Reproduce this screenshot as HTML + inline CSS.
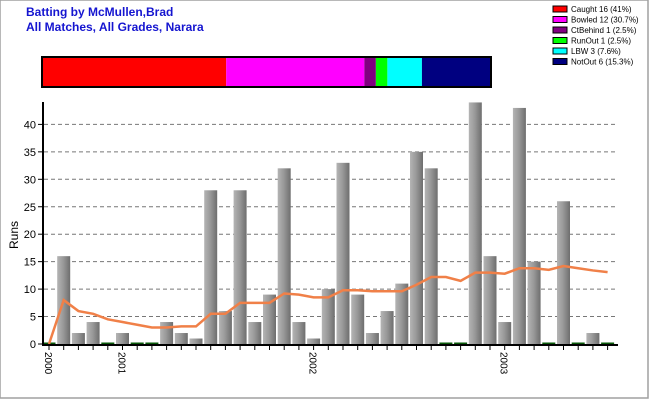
<!DOCTYPE html>
<html><head><meta charset="utf-8"><style>
body{margin:0;background:#fff;}
svg{display:block;font-family:"Liberation Sans",Arial,sans-serif;}
</style></head><body>
<svg id="c" width="650" height="400" viewBox="0 0 650 400">
<defs>
<linearGradient id="bg" x1="0" x2="1" y1="0" y2="0">
<stop offset="0" stop-color="#b4b4b4"/><stop offset="0.45" stop-color="#9a9a9a"/><stop offset="1" stop-color="#6e6e6e"/>
</linearGradient>
</defs>
<rect x="0" y="0" width="648" height="398" fill="#fff" stroke="#a0a0a0" stroke-width="1.5"/>
<text x="26" y="16" font-size="12" font-weight="bold" fill="#1515d0">Batting by McMullen,Brad</text>
<text x="26" y="31" font-size="12" font-weight="bold" fill="#1515d0">All Matches, All Grades, Narara</text>
<g id="dism"></g>
<g id="legend"></g>
<g id="grid"></g>
<g id="bars"></g>
<g id="line"></g>
<g id="axes"></g>
<text transform="translate(18,235) rotate(-90)" font-size="12" text-anchor="middle">Runs</text>
</svg>
<script>
const runs=[0,16,2,4,0,2,0,0,4,2,1,28,6,28,4,9,32,4,1,10,33,9,2,6,11,35,32,0,0,44,16,4,43,15,0,26,0,2,0];
const avg=[0,8,6,5.5,4.5,4,3.5,3,3,3.2,3.2,5.5,5.5,7.5,7.5,7.5,9.2,9,8.5,8.5,9.8,9.8,9.6,9.6,9.6,10.8,12.2,12.2,11.5,13,13,12.8,13.8,13.8,13.5,14.2,13.8,13.4,13.1];
const yTicks=[0,5,10,15,20,25,30,35,40];
const yearLabels=["2000","2001","2002","2003"];
const yearSlots=[0,5,18,31];
const dismLabels=["Caught 16 (41%)","Bowled 12 (30.7%)","CtBehind 1 (2.5%)","RunOut 1 (2.5%)","LBW 3 (7.6%)","NotOut 6 (15.3%)"];
const dismCounts=[16,12,1,1,3,6];
const dismColors=["#ff0000","#ff00ff","#800080","#00ff00","#00ffff","#000080"];
const NS="http://www.w3.org/2000/svg";
function mk(t,a,p){const e=document.createElementNS(NS,t);for(const k in a)e.setAttribute(k,a[k]);p.appendChild(e);return e;}
const x0=49,dx=14.7,y0=344,ky=5.49;
const X=i=>x0+i*dx, Y=v=>y0-v*ky;
// dismissal bar
const dg=document.getElementById('dism');const tot=dismCounts.reduce((a,b)=>a+b,0);
let cx=42;const bw=449;
dismCounts.forEach((c,i)=>{const w=c/tot*bw;const r=mk('rect',{x:cx,y:57,width:w,height:30,fill:dismColors[i]},dg);

cx+=w;});
mk('rect',{x:42,y:57,width:bw,height:30,fill:'none',stroke:'#000','stroke-width':2},dg);
// legend
const lg=document.getElementById('legend');
dismLabels.forEach((l,i)=>{const y=9+i*10.5;
const r=mk('rect',{x:553,y:y-3,width:14,height:6,fill:dismColors[i],stroke:'#000','stroke-width':1},lg);


const t=mk('text',{x:571,y:y+3,'font-size':8},lg);t.textContent=l;

});
// grid + y ticks
const gg=document.getElementById('grid'),ax=document.getElementById('axes');
yTicks.forEach(v=>{if(v>0){const g=mk('line',{x1:44,x2:617,y1:Y(v),y2:Y(v),stroke:'#777','stroke-dasharray':'4,3'},gg);

}
mk('line',{x1:38,x2:43,y1:Y(v),y2:Y(v),stroke:'#000'},ax);
const t=mk('text',{x:36,y:Y(v)+4,'font-size':11,'text-anchor':'end'},ax);t.textContent=v;

});
// bars
const bg=document.getElementById('bars');
runs.forEach((v,i)=>{let r;
if(v>0) r=mk('rect',{x:X(i)-6.5,y:Y(v),width:13,height:y0-Y(v),fill:'url(#bg)'},bg);
else r=mk('rect',{x:X(i)-6.5,y:y0-1.5,width:13,height:1.5,fill:'#0a5a0a'},bg);

});
// average line
const lp=mk('polyline',{points:avg.map((v,i)=>X(i)+','+Y(v)).join(' '),fill:'none',stroke:'#f08048','stroke-width':2.5},document.getElementById('line'));


// axes
mk('line',{x1:43,x2:43,y1:102,y2:346,stroke:'#000','stroke-width':2},ax);
mk('line',{x1:42,x2:618,y1:345,y2:345,stroke:'#000','stroke-width':2},ax);
runs.forEach((v,i)=>mk('line',{x1:X(i),x2:X(i),y1:345,y2:350,stroke:'#000'},ax));
yearLabels.forEach((l,i)=>{const x=X(yearSlots[i]);const t=mk('text',{transform:`translate(${x-4},352) rotate(90)`,'font-size':10},ax);t.textContent=l;

});
</script>
</body></html>
